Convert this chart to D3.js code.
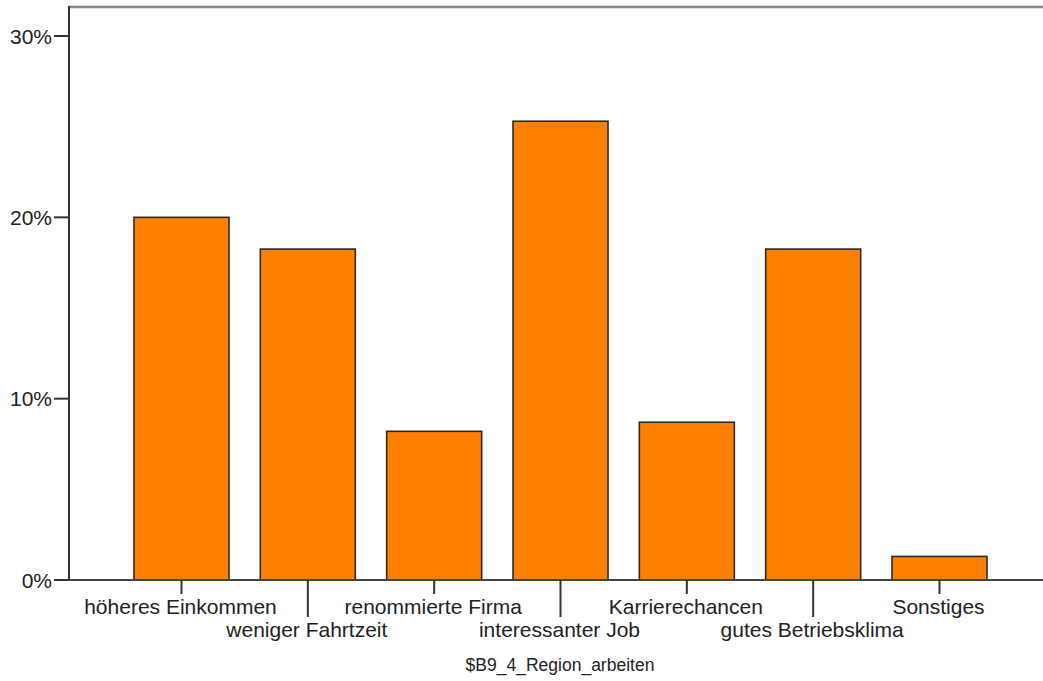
<!DOCTYPE html>
<html><head><meta charset="utf-8">
<script src="https://cdn.jsdelivr.net/npm/d3@7/dist/d3.min.js"></script>
<style>html,body{margin:0;padding:0;background:#fff;}</style>
</head><body>
<svg id="c" width="1043" height="681"></svg>
<script>
const categories = ["höheres Einkommen","weniger Fahrtzeit","renommierte Firma","interessanter Job","Karrierechancen","gutes Betriebsklima","Sonstiges"];
const values = [20.0, 18.25, 8.2, 25.3, 8.7, 18.25, 1.3];
const yTicks = [0, 10, 20, 30];
const axisTitle = "$B9_4_Region_arbeiten";

const svg = d3.select("#c");
const font = "'Liberation Sans', Arial, sans-serif";
const x = d3.scaleBand().domain(categories).range([69, 1052]).paddingInner(0.248).paddingOuter(0.5145);
const y = d3.scaleLinear().domain([0, 30]).range([580, 36]);

// top border
svg.append("line").attr("x1", 68).attr("x2", 1043).attr("y1", 7).attr("y2", 7)
  .attr("stroke", "#888").attr("stroke-width", 2.5);

// bars
svg.selectAll("rect.bar").data(values).enter().append("rect")
  .attr("x", (d,i) => x(categories[i]))
  .attr("y", d => y(d))
  .attr("width", x.bandwidth())
  .attr("height", d => y(0) - y(d))
  .attr("fill", "#FF8000").attr("stroke", "#2a2a2a").attr("stroke-width", 1.6);

// left axis line
svg.append("line").attr("x1", 69).attr("x2", 69).attr("y1", 6).attr("y2", 580)
  .attr("stroke", "#333").attr("stroke-width", 2);
// bottom axis line
svg.append("line").attr("x1", 54).attr("x2", 1043).attr("y1", 580).attr("y2", 580)
  .attr("stroke", "#444").attr("stroke-width", 2);

// y ticks
const yg = svg.append("g");
yTicks.forEach(t => {
  yg.append("line").attr("x1", 54).attr("x2", 69).attr("y1", y(t)).attr("y2", y(t))
    .attr("stroke", "#333").attr("stroke-width", 2);
  yg.append("text").attr("x", 52).attr("y", y(t) + 7.5).attr("text-anchor", "end")
    .attr("font-family", font).attr("font-size", 21).attr("fill", "#222")
    .text(t + "%");
});

// x ticks and labels
categories.forEach((c, i) => {
  const cx = x(c) + x.bandwidth() / 2;
  const low = i % 2 === 1;
  svg.append("line").attr("x1", cx).attr("x2", cx).attr("y1", 580).attr("y2", low ? 617 : 594)
    .attr("stroke", "#333").attr("stroke-width", 2);
  svg.append("text").attr("x", cx - 1).attr("y", low ? 637 : 614).attr("text-anchor", "middle")
    .attr("font-family", font).attr("font-size", 21).attr("fill", "#222")
    .text(c);
});

svg.append("text").attr("x", 560).attr("y", 671).attr("text-anchor", "middle")
  .attr("font-family", font).attr("font-size", 17.5).attr("fill", "#222")
  .text(axisTitle);
</script>
</body></html>
